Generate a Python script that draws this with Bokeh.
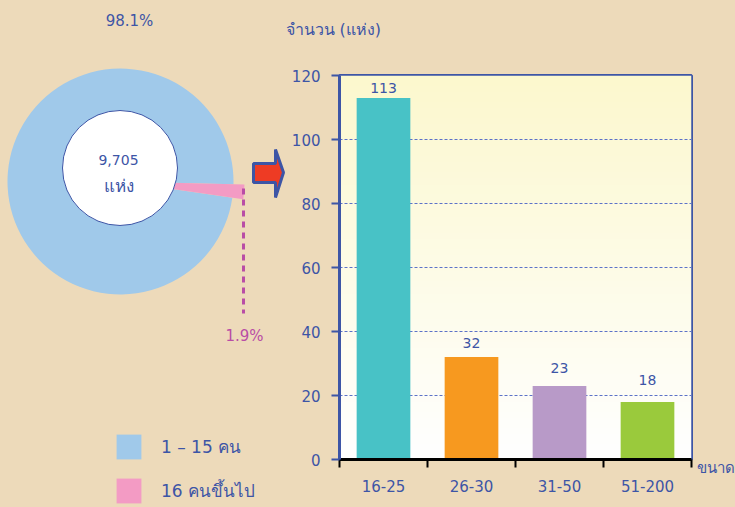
import numpy as np
from bokeh.plotting import figure
from bokeh.layouts import row, column
from bokeh.models import (Range1d, ColumnDataSource, Legend, LegendItem, FixedTicker)
from bokeh.core.properties import value
from bokeh.embed import file_html
from bokeh.resources import INLINE

# ---------------- data ----------------
categories = ["16-25", "26-30", "31-50", "51-200"]
counts = [113, 32, 23, 18]
pie_labels = ["1 – 15 คน", "16 คนขึ้นไป"]
pie_pct = [98.1, 1.9]
total_text = "9,705"
unit_text = "แห่ง"
y_ticks = [0, 20, 40, 60, 80, 100, 120]
y_title = "จำนวน (แห่ง)"
x_title = "ขนาด"

# ---------------- styles ----------------
BG = "#EDDABA"
BLUE = "#3D55A6"
MAGENTA = "#B94DA6"
FONT = value("DejaVu Sans")
pie_colors = ["#A0C9EA", "#F39BC4"]
pie_radii = [113, 124]
bar_colors = ["#48C2C6", "#F7991F", "#B89AC8", "#9ACA3C"]
label_offsets = [-10, -14, -18, -22]


def blank(w, h):
    f = figure(width=w, height=h, x_range=Range1d(0, w), y_range=Range1d(0, h),
               output_backend="svg", toolbar_location=None, min_border=0,
               x_axis_location=None, y_axis_location=None,
               outline_line_color=None, background_fill_color=BG, border_fill_color=BG)
    f.grid.visible = False
    f.frame_align = False
    return f


# ---------------- left: pie ----------------
left = blank(285, 507)

cx, cy = 120, 326
frac = np.array(pie_pct) / sum(pie_pct)
start0 = np.deg2rad(-1.4)
ends = start0 + 2 * np.pi * np.cumsum(frac)
starts = ends - 2 * np.pi * frac
pie_src = ColumnDataSource(dict(start=starts, end=ends, color=pie_colors, r=pie_radii,
                                label=pie_labels))
wr = left.wedge(x=cx, y=cy, radius="r", start_angle="start", end_angle="end",
                fill_color="color", line_color=None, source=pie_src)

left.circle(x=[119.5], y=[339.5], radius=57.5, fill_color="white",
            line_color=BLUE, line_width=1)
left.text(x=[118], y=[348], text=[total_text], text_font=FONT,
          text_font_size="14px", text_color=BLUE, text_align="center",
          text_baseline="middle")
left.text(x=[118], y=[322], text=[unit_text], text_font=FONT,
          text_font_size="17px", text_color=BLUE, text_align="center",
          text_baseline="middle")
left.text(x=[129], y=[487], text=[f"{pie_pct[0]}%"], text_font=FONT, text_font_size="15px",
          text_color=BLUE, text_align="center", text_baseline="middle")
left.text(x=[244], y=[172], text=[f"{pie_pct[1]}%"], text_font=FONT, text_font_size="15px",
          text_color=MAGENTA, text_align="center", text_baseline="middle")
left.line(x=[243, 243], y=[319, 194], line_color=MAGENTA, line_width=3, line_dash="6 5")

# block arrow
ax = [253, 275, 275, 283, 275, 275, 253]
ay = [507 - v for v in [163, 163, 149, 172, 197, 182, 182]]
left.patch(ax, ay, fill_color="#EE3B24", line_color=BLUE, line_width=3)

legend = Legend(items=[LegendItem(label=pie_labels[0], renderers=[wr], index=0),
                       LegendItem(label=pie_labels[1], renderers=[wr], index=1)],
                location=(113, 1), glyph_width=31, glyph_height=31, label_standoff=17,
                spacing=13, padding=0, margin=0, border_line_color=None,
                background_fill_alpha=0, label_text_font_size="17px",
                label_text_color=BLUE, label_text_font="DejaVu Sans")
left.add_layout(legend)

# ---------------- top strip: y-axis title ----------------
top_strip = blank(410, 50)
top_strip.text(x=[0], y=[21], text=[y_title], text_font=FONT, text_font_size="16px",
               text_color=BLUE, text_align="left", text_baseline="middle")

# ---------------- right: bars ----------------
right = figure(width=410, height=457, x_range=Range1d(0, 4), y_range=Range1d(0, 120),
               output_backend="svg", toolbar_location=None,
               min_border_left=54, min_border_right=4, min_border_top=25,
               min_border_bottom=48, background_fill_color="white",
               border_fill_color=BG, outline_line_color=BLUE, outline_line_width=3)
right.frame_align = False

# gradient plot-area background
n = 120
grad = np.empty((n, 1), dtype=np.uint32)
view = grad.view(dtype=np.uint8).reshape((n, 1, 4))
t = np.linspace(0, 1, n)
top = np.array([252, 248, 206])
bot = np.array([255, 255, 255])
for i in range(n):
    c = bot + (top - bot) * t[i]
    view[i, 0, 0] = int(c[0]); view[i, 0, 1] = int(c[1]); view[i, 0, 2] = int(c[2]); view[i, 0, 3] = 255
right.image_rgba(image=[grad], x=0, y=0, dw=4, dh=120, level="image")

xs = [i + 0.5 for i in range(len(categories))]
bar_src = ColumnDataSource(dict(x=xs, top=counts, color=bar_colors,
                                lab=[str(c) for c in counts], dy=label_offsets))
right.vbar(x="x", top="top", width=0.61, fill_color="color", line_color=None, source=bar_src)
right.text(x="x", y="top", text="lab", y_offset="dy", text_font=FONT, text_font_size="14px",
           text_color=BLUE, text_align="center", text_baseline="middle", source=bar_src)

right.xgrid.visible = False
right.ygrid.grid_line_color = "#5C72C8"
right.ygrid.grid_line_dash = "3 2"
right.ygrid.grid_line_width = 1
right.ygrid.ticker = FixedTicker(ticks=y_ticks)

ya = right.yaxis[0]
ya.ticker = FixedTicker(ticks=y_ticks)
ya.axis_line_color = BLUE
ya.axis_line_width = 3
ya.major_tick_line_color = BLUE
ya.major_tick_line_width = 2
ya.major_tick_out = 8
ya.major_tick_in = 0
ya.minor_tick_line_color = None
ya.major_label_text_font = "DejaVu Sans"
ya.major_label_text_font_size = "15px"
ya.major_label_text_color = BLUE
ya.major_label_standoff = 11

xa = right.xaxis[0]
xa.ticker = FixedTicker(ticks=xs, minor_ticks=list(range(len(categories) + 1)))
xa.major_label_overrides = {x: c for x, c in zip(xs, categories)}
xa.axis_line_color = "black"
xa.axis_line_width = 3
xa.major_tick_line_color = None
xa.major_tick_out = 8
xa.major_tick_in = 0
xa.minor_tick_line_color = "black"
xa.minor_tick_line_width = 2
xa.minor_tick_out = 8
xa.minor_tick_in = 0
xa.major_label_text_font = "DejaVu Sans"
xa.major_label_text_font_size = "15px"
xa.major_label_text_color = BLUE
xa.major_label_standoff = 12

# ---------------- strip for the x-axis title ----------------
strip = blank(40, 507)
strip.text(x=[1], y=[40], text=[x_title], text_font=FONT, text_font_size="15px",
           text_color=BLUE, text_align="left", text_baseline="middle")

layout = row(left, column(top_strip, right), strip)
html = file_html(layout, INLINE).replace(
    "<head>", "<head><style>html,body{margin:0;padding:0;background:#EDDABA;overflow:hidden}</style>", 1)
with open("out.html", "w", encoding="utf-8") as f:
    f.write(html)
